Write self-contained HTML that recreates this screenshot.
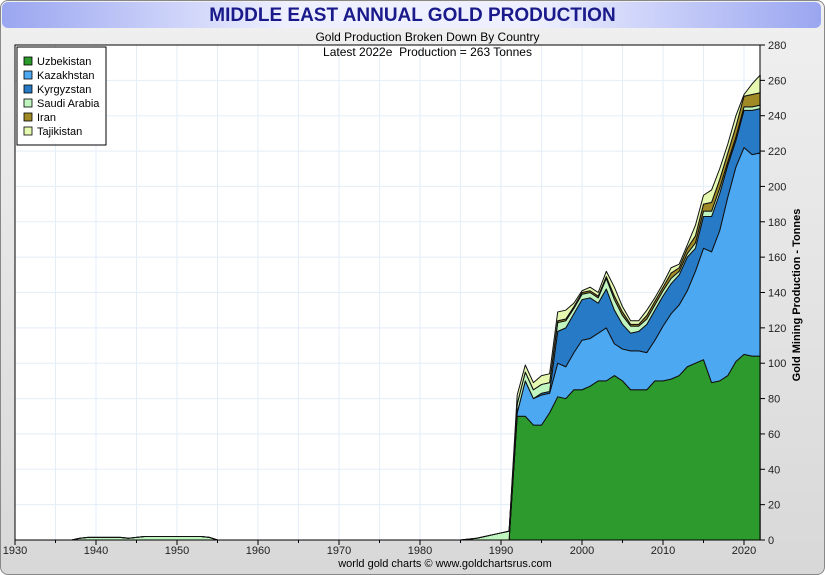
<!DOCTYPE html>
<html><head><meta charset="utf-8"><style>
body{margin:0;width:825px;height:575px;background:#fff;font-family:"Liberation Sans",sans-serif;overflow:hidden}
#frame{position:absolute;left:0;top:0;width:823px;height:573px;border:1px solid #888;border-radius:8px;background:linear-gradient(#f0f0f0,#d8d8d8)}
#titlebar{position:absolute;left:2px;top:2px;width:819px;height:26px;border-radius:6px;background:linear-gradient(90deg,#9aa6f0,#eef0ff 35%,#eef0ff 65%,#9aa6f0)}
</style></head><body>
<div id="frame"></div>
<div id="titlebar"></div>
<svg id="c" width="825" height="575" style="position:absolute;left:0;top:0"></svg>
<script>
const years=[];for(let y=1930;y<=2022;y++)years.push(y);
const saudi=[0,0,0,0,0,0,0,0,1,1.5,1.5,1.5,1.5,1.5,1,1.5,2,2,2,2,2,2,2,2,1.5,0,0,0,0,0,0,0,0,0,0,0,0,0,0,0,0,0,0,0,0,0,0,0,0,0,0,0,0,0,0,0,0.5,1,2,3,4,5,
 5,5,5,5,5,5,4,3,3,3,3,6,6,5,4,3,3,3,3,3,2,2,3,3,3,3,2,2,2,2,2];
const uzbek=[70,70,65,65,72,81,80,85,85,87,90,90,93,90,85,85,85,90,90,91,93,98,100,102,89,90,93,101,105,104,104];
const kazakh=[2,20,15,17,11,19,18,21,28,27,27,30,18,18,22,22,21,23,31,37,40,43,52,63,74,85,101,110,117,114,115];
const kyrgyz=[0,0,0,1,1,18,22,22,23,23,17,22,19,14,10,11,16,17,17,17,17,19,13,18,20,21,18,15,21,25,25];
const iran=[0,0,0,0,0,1,1,1,1,1,1,1,2,2,1,1,2,2,2,3,2,3,4,4,5,5,5,6,6,7,7];
const tajik=[5,4,4,5,5,5,5,2,1,2,2,3,5,3,2,2,3,2,2,3,2,2,6,5,7,6,5,6,1,6,10];
const yTicks=[0,20,40,60,80,100,120,140,160,180,200,220,240,260,280];
const xTicks=[1930,1940,1950,1960,1970,1980,1990,2000,2010,2020];
const X=y=>15+(y-1930)*8.1, Y=v=>540-v*495/280;
const NS="http://www.w3.org/2000/svg",svg=document.getElementById('c');
function el(t,a,p){const e=document.createElementNS(NS,t);for(const k in a)e.setAttribute(k,a[k]);(p||svg).appendChild(e);return e}
const full=(arr)=>years.map(y=>y<1992?0:arr[y-1992]);
const series=[["Uzbekistan","#2c9a2c",full(uzbek)],["Kazakhstan","#4da8f2",full(kazakh)],["Kyrgyzstan","#277ac6",full(kyrgyz)],["Saudi Arabia","#c0f5c0",saudi],["Iran","#a08a25",full(iran)],["Tajikistan","#e6f9b0",full(tajik)]];
el('rect',{x:15,y:45,width:745,height:495,fill:'#fff'});
for(let yr=1930;yr<=2020;yr+=5){const l=el('line',{x1:X(yr),x2:X(yr),y1:45,y2:540,stroke:'#e3eef8'});}
yTicks.forEach(v=>{const l=el('line',{x1:15,x2:760,y1:Y(v),y2:Y(v),stroke:'#e3eef8'});});
let base=years.map(()=>0);
series.forEach(([name,col,vals])=>{
  const top=base.map((b,i)=>b+vals[i]);
  let d='M'+years.map((y,i)=>X(y)+','+Y(top[i])).join('L');
  for(let i=years.length-1;i>=0;i--)d+='L'+X(years[i])+','+Y(base[i]);
  const p=el('path',{d:d+'Z',fill:col,stroke:'#111','stroke-width':1,'stroke-linejoin':'round'});
  
  
  base=top;
});
el('rect',{x:15,y:45,width:745,height:495,fill:'none',stroke:'#000'});
yTicks.forEach(v=>{el('line',{x1:760,x2:765,y1:Y(v),y2:Y(v),stroke:'#000'});
 const t=el('text',{x:768,y:Y(v)+4,'font-size':11,fill:'#222'});t.textContent=v;
 });
for(let yr=1930;yr<=2020;yr+=5)el('line',{x1:X(yr),x2:X(yr),y1:540,y2:yr%10?543:545,stroke:'#000'});
xTicks.forEach(v=>{const t=el('text',{x:X(v),y:554,'font-size':11,'text-anchor':'middle',fill:'#222'});t.textContent=v;
 });
// legend
const lg=el('g',{});
el('rect',{x:17,y:47,width:89,height:98,fill:'#fff',stroke:'#000'},lg);
series.forEach(([name,col],i)=>{
  const g=el('g',{},lg);
  el('rect',{x:24,y:57+i*14,width:8,height:8,fill:col,stroke:'#000','stroke-width':0.8},g);
  const t=el('text',{x:37,y:65+i*14,'font-size':11,fill:'#000'},g);t.textContent=name;
});
</script>
<div style="position:absolute;left:0;width:825px;top:5px;text-align:center;font-weight:bold;font-size:19px;color:#1a1a8a">MIDDLE EAST ANNUAL GOLD PRODUCTION</div>
<div style="position:absolute;left:0;width:855px;top:30px;text-align:center;font-size:12px;line-height:15px;color:#000">Gold Production Broken Down By Country<br>Latest 2022e&nbsp; Production = 263 Tonnes</div>
<div style="position:absolute;left:797px;top:295px;transform:translate(-50%,-50%) rotate(-90deg);white-space:nowrap;font-size:11px;font-weight:bold">Gold Mining Production - Tonnes</div>
<div style="position:absolute;left:0;width:890px;top:558px;text-align:center;font-size:11px">world gold charts © www.goldchartsrus.com</div>
</body></html>
